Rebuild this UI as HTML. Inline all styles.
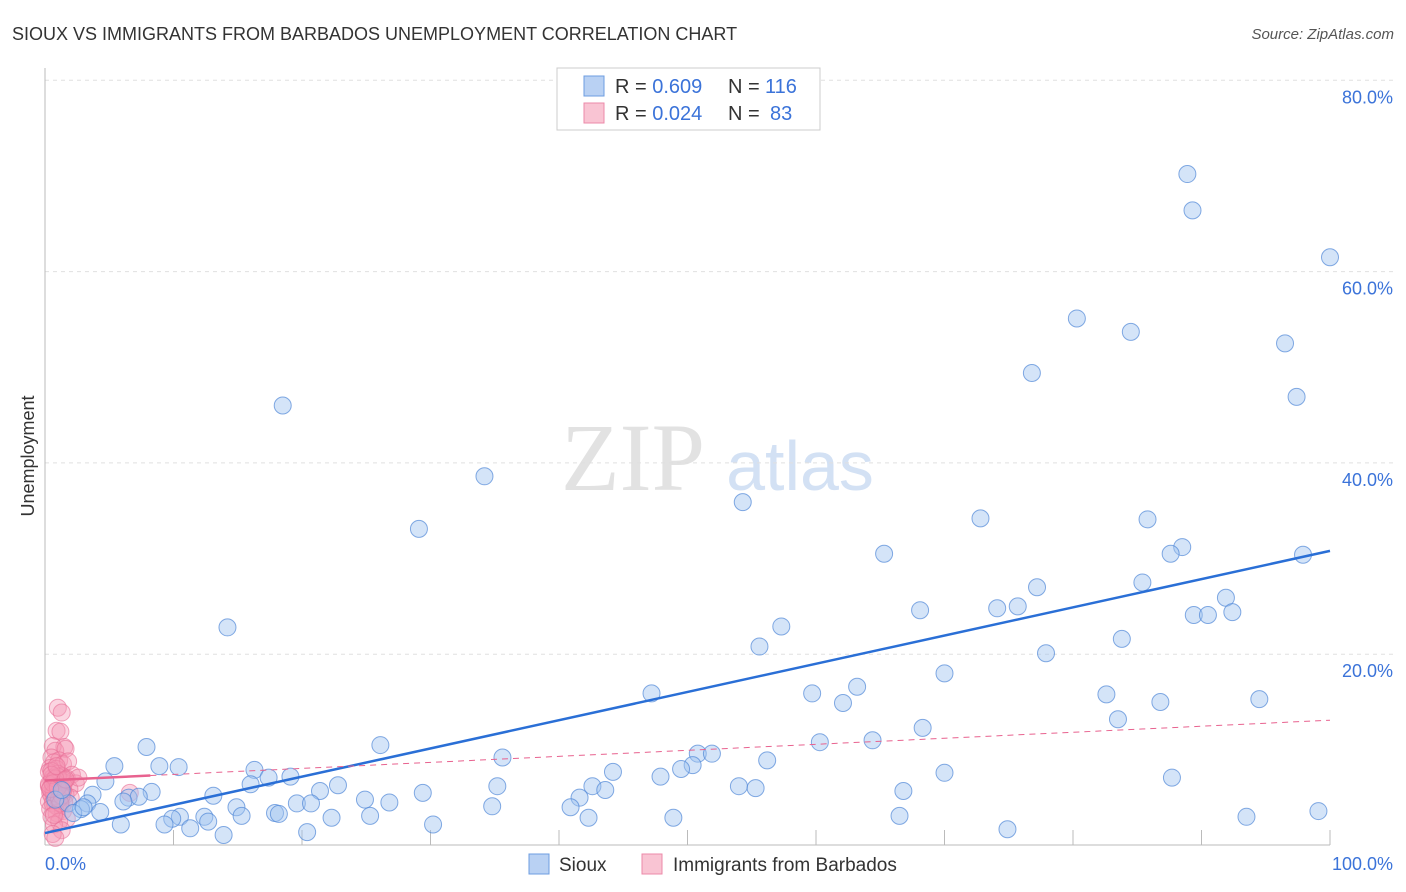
<!DOCTYPE html>
<html><head><meta charset="utf-8">
<style>
body{margin:0;background:#fff;width:1406px;height:892px;overflow:hidden;font-family:"Liberation Sans",sans-serif;}
svg{position:absolute;left:0;top:0}
</style></head>
<body>
<svg id="chart" width="1406" height="892">
<text x="12" y="40" font-size="18" fill="#333">SIOUX VS IMMIGRANTS FROM BARBADOS UNEMPLOYMENT CORRELATION CHART</text>
<text x="1394" y="39" font-size="15" fill="#555" text-anchor="end" font-style="italic">Source: ZipAtlas.com</text>
<text transform="translate(34,456) rotate(-90)" font-size="18" fill="#333" text-anchor="middle">Unemployment</text>
<g>
<text x="633" y="490" font-size="96" fill="#e2e2e2" text-anchor="middle" font-family="Liberation Serif,serif">ZIP</text>
<text x="800" y="490" font-size="70" fill="#d3e1f4" text-anchor="middle">atlas</text>
</g>
<g id="grid"></g>
<g id="pts"></g>
<g id="lines"></g>
<g>
<rect x="557" y="68" width="263" height="62" fill="#fff" stroke="#ccc"/>
<rect x="584" y="76" width="20" height="20" fill="#b9d1f3" stroke="#6d9de0"/>
<rect x="584" y="103" width="20" height="20" fill="#f9c4d3" stroke="#ec8aa8"/>
<text x="615" y="93" font-size="20" fill="#333">R = <tspan fill="#3b73d9">0.609</tspan><tspan x="728">N = </tspan><tspan fill="#3b73d9" x="765">116</tspan></text>
<text x="615" y="120" font-size="20" fill="#333">R = <tspan fill="#3b73d9">0.024</tspan><tspan x="728">N = </tspan><tspan fill="#3b73d9" x="770">83</tspan></text>
</g>
<g>
<rect x="529" y="854" width="20" height="20" fill="#b9d1f3" stroke="#6d9de0"/>
<text x="559" y="871" font-size="19" fill="#333">Sioux</text>
<rect x="642" y="854" width="20" height="20" fill="#f9c4d3" stroke="#ec8aa8"/>
<text x="673" y="871" font-size="19" fill="#333">Immigrants from Barbados</text>
</g>
</svg>
<script>
const yTicks=[20,40,60,80];
const yTickLabels=["20.0%","40.0%","60.0%","80.0%"];
const xTickLabels=["0.0%","100.0%"];
const siouxX=[88.9,89.3,100,80.3,84.5,96.5,76.8,97.4,18.5,34.2,54.3,29.1,72.8,85.8,88.5,87.6,65.3,97.9,85.4,77.2,91.9,75.7,74.1,68.1,89.4,90.5,92.4,14.2,57.3,83.8,55.6,77.9,70.0,47.2,59.7,63.2,82.6,62.1,86.8,94.5,83.5,68.3,64.4,60.3,26.1,7.9,50.8,51.9,35.6,50.4,56.2,5.4,8.9,10.4,16.3,49.5,44.2,70.0,19.1,17.4,47.9,87.7,4.7,16.0,22.8,35.2,42.6,54.0,55.3,21.4,43.6,8.3,3.7,13.1,29.4,66.8,6.5,7.3,41.6,24.9,26.8,19.6,20.7,3.3,1.8,14.9,34.8,40.9,2.8,4.3,2.2,17.9,99.1,18.2,15.3,10.5,12.4,25.3,9.9,22.3,42.3,48.9,66.5,93.5,12.7,5.9,9.3,11.3,30.2,20.4,13.9,74.9,0.8,1.3,6.1,3.0];
const siouxY=[70.2,66.4,61.5,55.1,53.7,52.5,49.4,46.9,46.0,38.6,35.9,33.1,34.2,34.1,31.2,30.5,30.5,30.4,27.5,27.0,25.9,25.0,24.8,24.6,24.1,24.1,24.4,22.8,22.9,21.6,20.8,20.1,18.0,15.9,15.9,16.6,15.8,14.9,15.0,15.3,13.2,12.3,11.0,10.8,10.5,10.3,9.6,9.6,9.2,8.4,8.9,8.3,8.3,8.2,7.9,8.0,7.7,7.6,7.2,7.1,7.2,7.1,6.7,6.4,6.3,6.2,6.2,6.2,6.0,5.7,5.8,5.6,5.3,5.2,5.5,5.7,5.0,5.1,5.0,4.8,4.5,4.4,4.4,4.4,4.4,4.0,4.1,4.0,3.8,3.5,3.4,3.4,3.6,3.3,3.1,3.0,3.0,3.1,2.8,2.9,2.9,2.9,3.1,3.0,2.5,2.2,2.2,1.8,2.2,1.4,1.1,1.7,4.8,5.8,4.6,4.0];
const barbX=[1.0,1.3,0.9,1.2,1.5,0.6,0.8,1.6,0.5,1.1,0.7,1.4,0.4,0.9,1.8,2.1,0.3,1.0,1.3,0.6,1.7,0.8,1.2,0.5,1.5,2.4,0.9,1.1,0.3,0.7,1.4,1.9,0.6,1.0,1.2,0.4,0.8,1.6,0.5,1.3,2.0,0.9,0.7,1.1,0.3,1.5,0.6,1.2,0.8,1.0,0.4,1.4,0.9,0.5,1.7,1.1,0.7,6.6,1.3,0.6,1.0,0.8,0.4,1.2,0.9,1.5,0.5,2.6,0.7,1.1,0.3,1.3,0.8,0.6,1.0,1.4,0.5,0.9,1.2,0.7,1.6,0.4,0.8];
const barbY=[14.4,13.9,12.0,11.9,10.3,10.4,9.9,10.1,9.2,8.9,8.7,8.5,8.1,8.0,8.8,7.4,7.7,7.5,7.3,7.1,7.0,6.9,6.8,6.7,6.6,6.5,6.4,6.3,6.2,6.1,6.0,5.9,5.8,5.7,5.6,5.5,5.4,5.3,5.2,5.1,5.0,4.9,4.8,4.7,4.6,4.5,4.4,4.3,4.2,4.0,3.8,3.6,3.4,3.0,2.8,2.5,2.2,5.5,1.6,1.2,7.2,6.6,6.0,5.8,6.2,6.8,7.8,7.1,5.5,4.9,6.4,5.2,7.0,6.5,6.1,5.7,7.4,8.3,4.4,3.2,6.9,5.9,0.8];
const siouxTrend=[1.3,30.8];
const barbTrend=[6.8,13.1];
const X0=45,X1=1330,Y0=845.5,PY=9.565;
const sx=v=>X0+(X1-X0)*v/100, sy=v=>Y0-PY*v;
const NS="http://www.w3.org/2000/svg";
function mk(t,a,p){const e=document.createElementNS(NS,t);for(const k in a)e.setAttribute(k,a[k]);p.appendChild(e);return e;}
const grid=document.getElementById('grid');
yTicks.forEach((t,i)=>{
 const l=mk('line',{x1:45,x2:1394,y1:sy(t),y2:sy(t),stroke:'#e0e0e0','stroke-dasharray':'4,4'},grid);
 
 
 const tx=mk('text',{x:1393,y:sy(t)+23,'font-size':18,fill:'#3b73d9','text-anchor':'end'},grid);
 tx.textContent=yTickLabels[i];
 
 
});
const ax=mk('line',{x1:45,x2:45,y1:68,y2:845,stroke:'#bbb'},grid);


const bx=mk('line',{x1:45,x2:1330,y1:845,y2:845,stroke:'#bbb'},grid);


for(let i=1;i<=10;i++){const tk=mk('line',{x1:sx(i*10),x2:sx(i*10),y1:830,y2:845,stroke:'#bbb'},grid);
 
 }
const xl0=mk('text',{x:45,y:870,'font-size':18,fill:'#3b73d9'},grid);xl0.textContent=xTickLabels[0];


const xl1=mk('text',{x:1393,y:870,'font-size':18,fill:'#3b73d9','text-anchor':'end'},grid);xl1.textContent=xTickLabels[1];


const pts=document.getElementById('pts');
barbX.forEach((v,i)=>{const c=mk('circle',{cx:sx(v),cy:sy(barbY[i]),r:8.5,fill:'rgba(246,150,180,0.4)',stroke:'rgba(232,110,150,0.6)','stroke-width':1},pts);
 
 });
siouxX.forEach((v,i)=>{const c=mk('circle',{cx:sx(v),cy:sy(siouxY[i]),r:8.5,fill:'rgba(160,195,240,0.45)',stroke:'rgba(80,135,215,0.7)','stroke-width':1},pts);
 
 });
const lines=document.getElementById('lines');
const bl=mk('line',{x1:sx(0),y1:sy(siouxTrend[0]),x2:sx(100),y2:sy(siouxTrend[1]),stroke:'#2a6fd6','stroke-width':2.5},lines);


const bp=v=>barbTrend[0]+(barbTrend[1]-barbTrend[0])*v/100;
const pl=mk('line',{x1:sx(0),y1:sy(bp(0)),x2:sx(8.2),y2:sy(bp(8.2)),stroke:'#e8628f','stroke-width':2.5},lines);


const pd=mk('line',{x1:sx(8.2),y1:sy(bp(8.2)),x2:sx(100),y2:sy(bp(100)),stroke:'#e8628f','stroke-width':1,'stroke-dasharray':'6,5'},lines);


</script>
</body></html>
